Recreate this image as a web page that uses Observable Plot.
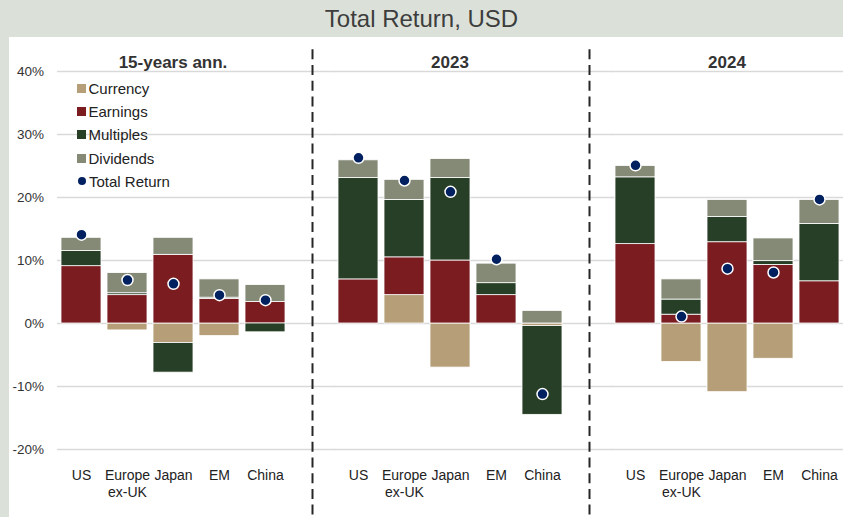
<!DOCTYPE html>
<html><head><meta charset="utf-8">
<script src="https://cdn.jsdelivr.net/npm/d3@7"></script>
<script src="https://cdn.jsdelivr.net/npm/@observablehq/plot@0.6"></script>
<style>
html,body{margin:0;padding:0;}
body{width:843px;height:517px;background:#dbe1d9;font-family:"Liberation Sans",Arial,sans-serif;overflow:hidden;position:relative;}
#title{position:absolute;left:0;top:0;width:843px;height:37px;line-height:37px;text-align:center;font-size:24px;color:#3d3d3d;}
#panel{position:absolute;left:9px;top:37px;width:834px;height:480px;background:#fff;}
#panel svg{position:absolute;left:0;top:0;}
#legend{position:absolute;left:68px;top:39.5px;}
.item{height:23.3px;display:flex;align-items:center;font-size:15px;color:#222;white-space:nowrap;}
.sw{width:9px;height:9px;margin-right:2.5px;flex:none;}
.cir{width:8px;height:8px;border-radius:50%;margin:0 3px 0 1px;flex:none;}
</style>
</head><body>
<div id="title">Total Return, USD</div>
<div id="panel"><div id="legend"></div></div>
<script>
const regions = ["US", "Europe ex-UK", "Japan", "EM", "China"];
const periods = ["15-years ann.", "2023", "2024"];
const components = ["Currency", "Earnings", "Multiples", "Dividends"];
const componentColors = ["#b59e78", "#7b1c20", "#283f27", "#858a77"];
const totalLabel = "Total Return";
const totalColor = "#002060";
const yTicks = [-20, -10, 0, 10, 20, 30, 40];

// values in %, one row per period, columns follow regions
const currency  = [[0, -1.1, -3.1, -2.0, 0], [0, 4.5, -7.0, 0, -0.4], [0, -6.1, -10.9, -5.6, 0]];
const earnings  = [[9.1, 4.5, 10.9, 3.9, 3.4], [7.0, 6.0, 10.0, 4.5, 0], [12.6, 1.4, 12.9, 9.3, 6.7]];
const multiples = [[2.4, 0.3, -4.7, 0.2, -1.4], [16.1, 9.1, 13.1, 1.9, -14.1], [10.6, 2.4, 4.0, 0.6, 9.1]];
const dividends = [[2.1, 3.2, 2.7, 2.9, 2.7], [2.8, 3.2, 3.0, 3.1, 2.0], [1.8, 3.2, 2.7, 3.6, 3.8]];
const totalReturn = [[14.1, 6.9, 6.3, 4.5, 3.7], [26.3, 22.7, 20.9, 10.2, -11.2], [25.1, 1.1, 8.7, 8.1, 19.7]];

const series = [currency, earnings, multiples, dividends];
const rows = [];
const totals = [];
periods.forEach((p, pi) => regions.forEach((r, ri) => {
  series.forEach((arr, ci) => rows.push({period: p, region: r, component: components[ci], value: arr[pi][ri]}));
  totals.push({period: p, region: r, value: totalReturn[pi][ri]});
}));
const separators = periods.slice(0, -1).map(p => ({period: p, region: regions[regions.length - 1]}));

const font = '"Liberation Sans", Arial, sans-serif';
const chart = Plot.plot({
  width: 834, height: 480,
  marginLeft: 48, marginRight: 0, marginTop: 34, marginBottom: 68,
  style: {fontFamily: font, background: "transparent", overflow: "visible"},
  fx: {domain: periods, paddingInner: 0.1658, paddingOuter: 0, label: null, axis: null},
  x: {domain: regions, paddingInner: 0.136, paddingOuter: 0.068, label: null, axis: null},
  y: {domain: [-20, 40], label: null, axis: null},
  color: {domain: components, range: componentColors},
  marks: [
    Plot.gridY(yTicks, {stroke: "#d9d9d9", strokeOpacity: 1, strokeWidth: 1.3, insetRight: -47}),
    Plot.axisY(yTicks, {tickSize: 0, tickPadding: 13.5, tickFormat: d => d + "%", fontSize: 13.5, fill: "#333", label: null}),
    Plot.axisX({tickSize: 0, tickPadding: 19, fontSize: 14, fill: "#222", lineHeight: 1.2, tickFormat: d => d.replace(" ex", "\nex"), label: null}),
    Plot.barY(rows, {fx: "period", x: "region", y: "value", fill: "component", stroke: "#fff", strokeWidth: 0.8}),
    Plot.ruleX(separators, {fx: "period", x: "region", dx: 47, stroke: "#262626", strokeWidth: 2, strokeDasharray: "10,5.7", insetTop: -21.7, insetBottom: -68}),
    Plot.dot(totals, {fx: "period", x: "region", y: "value", r: 5.5, fill: totalColor, stroke: "#fff", strokeWidth: 1.5}),
    Plot.text(periods, {fx: d => d, text: d => d, frameAnchor: "top", lineAnchor: "middle", dy: -8.5, fontWeight: "bold", fontSize: 17, fill: "#333"})
  ]
});
const panel = document.getElementById("panel");
panel.insertBefore(chart, panel.firstChild);

const legend = document.getElementById("legend");
components.forEach((c, i) => {
  const it = document.createElement("div"); it.className = "item";
  const sw = document.createElement("span"); sw.className = "sw"; sw.style.background = componentColors[i];
  it.appendChild(sw); it.appendChild(document.createTextNode(c)); legend.appendChild(it);
});
{
  const it = document.createElement("div"); it.className = "item";
  const sw = document.createElement("span"); sw.className = "cir"; sw.style.background = totalColor;
  it.appendChild(sw); it.appendChild(document.createTextNode(totalLabel)); legend.appendChild(it);
}
</script>
</body></html>
